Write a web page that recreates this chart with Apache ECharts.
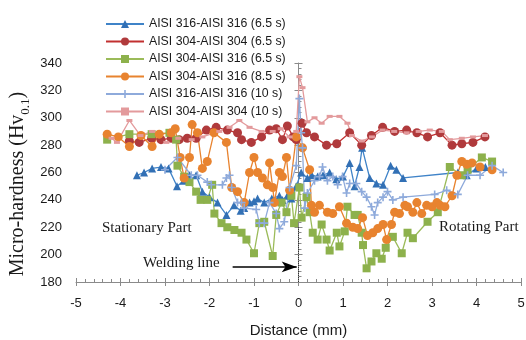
<!DOCTYPE html>
<html>
<head>
<meta charset="utf-8">
<script src="https://cdn.jsdelivr.net/npm/echarts@6/dist/echarts.min.js"></script>
<style>html,body{margin:0;padding:0;background:#fff}#c{width:526px;height:340px}</style>
</head>
<body>
<div id="c"></div>
<script>
// Tick settings
const xTicks = [-5, 5, 1];
const yTicks = [180, 340, 20];
const seriesNames = [
  'AISI 316-AISI 316 (6.5 s)',
  'AISI 304-AISI 304 (6.5 s)',
  'AISI 304-AISI 316 (6.5 s)',
  'AISI 304-AISI 316 (8.5 s)',
  'AISI 316-AISI 316 (10 s)',
  'AISI 304-AISI 304 (10 s)'
];
// [distance (mm), micro-hardness]
const s316_65 = [[-3.63,258],[-3.47,260],[-3.29,263],[-3.09,264],[-2.92,263],[-2.73,250],[-2.58,254],[-2.45,258],[-2.3,258],[-2.16,246],[-2.0,242],[-1.82,238],[-1.62,229],[-1.45,236],[-1.3,232],[-1.22,234],[-1.1,238],[-1.0,239],[-0.92,241],[-0.77,238],[-0.6,241],[-0.43,243],[-0.36,240],[-0.25,243],[-0.16,241],[-0.05,250],[0.06,260],[0.2,256],[0.3,258],[0.43,257],[0.55,258],[0.7,260],[0.85,255],[1.0,257],[1.15,267],[1.26,250],[1.37,264],[1.43,278],[1.6,256],[1.75,252],[1.9,251],[2.07,265],[2.2,262],[2.35,256],[3.58,260],[3.78,258],[4.0,263],[4.2,264]];
const s304_65 = [[-3.8,283],[-3.58,282],[-3.3,285],[-3.09,284],[-2.86,285],[-2.68,284],[-2.5,285],[-2.3,285],[-2.07,291],[-1.85,293],[-1.6,291],[-1.37,289],[-1.28,284],[-1.06,282],[-0.83,286],[-0.65,291],[-0.5,292],[-0.36,284],[-0.25,294],[-0.12,286],[-0.05,284],[0.08,296],[0.18,289],[0.36,286],[0.63,280],[0.86,281],[1.15,289],[1.42,280],[1.64,287],[1.89,293],[2.16,290],[2.43,291],[2.66,289],[2.9,286],[3.18,289],[3.45,280],[3.67,281],[3.92,282],[4.19,286]];
const s304_316_65 = [[-4.3,284],[-3.8,288],[-3.3,288],[-2.9,289],[-2.75,284],[-2.72,265],[-2.57,257],[-2.45,253],[-2.3,246],[-2.2,240],[-2.05,240],[-1.94,251],[-1.89,230],[-1.73,223],[-1.6,220],[-1.44,218],[-1.28,216],[-1.17,211],[-1.0,201],[-0.88,223],[-0.77,224],[-0.58,199],[-0.5,229],[-0.38,238],[-0.27,231],[-0.16,243],[-0.1,223],[0.02,249],[0.07,227],[0.18,242],[0.25,231],[0.32,216],[0.43,211],[0.52,222],[0.63,211],[0.7,203],[0.86,216],[0.92,206],[1.04,217],[1.1,235],[1.26,229],[1.33,229],[1.42,216],[1.45,207],[1.53,190],[1.64,195],[1.75,201],[1.87,197],[1.96,205],[2.12,213],[2.32,201],[2.45,216],[2.57,212],[2.9,224],[3.13,231],[3.4,264],[3.67,258],[3.8,262],[4.12,271],[4.35,268]];
const s304_316_85 = [[-4.3,288],[-4.05,286],[-3.8,279],[-3.54,287],[-3.29,279],[-3.13,288],[-2.86,289],[-2.77,292],[-2.66,271],[-2.57,256],[-2.45,271],[-2.39,295],[-2.27,289],[-2.16,263],[-2.05,268],[-1.9,289],[-1.62,282],[-1.5,249],[-1.37,246],[-1.22,238],[-1.1,260],[-1.0,271],[-0.92,260],[-0.81,256],[-0.7,251],[-0.65,267],[-0.58,249],[-0.54,238],[-0.43,260],[-0.36,257],[-0.27,271],[-0.2,247],[-0.05,286],[0.09,278],[0.25,262],[0.29,236],[0.36,231],[0.47,236],[0.65,231],[0.77,230],[0.92,235],[1.08,223],[1.22,220],[1.33,219],[1.44,227],[1.55,214],[1.67,216],[1.78,219],[1.9,222],[1.98,211],[2.09,222],[2.16,231],[2.27,230],[2.39,236],[2.45,235],[2.57,231],[2.66,238],[2.77,230],[2.88,236],[3.0,235],[3.11,238],[3.18,236],[3.29,235],[3.45,243],[3.56,258],[3.67,268],[3.78,266],[3.9,267],[4.08,264],[4.35,262]];
const s316_10 = [[-3.0,262],[-2.72,271],[-2.41,258],[-2.27,258],[-2.05,253],[-1.96,251],[-1.71,251],[-1.62,256],[-1.55,258],[-1.5,249],[-1.37,238],[-1.28,238],[-1.22,234],[-0.95,233],[-0.88,223],[-0.77,223],[-0.65,238],[-0.5,230],[-0.43,219],[-0.32,224],[-0.2,249],[-0.05,265],[0.02,314],[0.06,289],[0.09,278],[0.14,234],[0.2,245],[0.36,254],[0.47,257],[0.54,264],[0.65,254],[0.77,257],[0.88,251],[0.99,257],[1.08,245],[1.15,252],[1.3,252],[1.42,246],[1.53,242],[1.64,235],[1.71,229],[1.78,238],[1.9,242],[2.0,246],[2.12,240],[2.35,242],[3.06,244],[3.33,247],[3.58,244],[3.8,258],[4.08,258],[4.35,265],[4.6,260]];
const s304_10 = [[-4.2,285],[-4.08,282],[-3.8,298],[-3.55,287],[-3.29,290],[-2.97,282],[-2.7,285],[-2.4,284],[-2.16,286],[-1.78,290],[-1.55,293],[-1.33,298],[-1.1,293],[-0.83,290],[-0.58,290],[-0.4,292],[-0.2,286],[-0.05,290],[0.02,330],[0.09,322],[0.2,297],[0.36,300],[0.52,296],[0.7,301],[0.92,301],[1.1,296],[1.2,287],[1.42,283],[1.65,286],[1.89,291],[2.15,290],[2.43,289],[2.7,290],[2.95,291],[3.22,290],[3.4,284],[3.67,285],[3.92,286],[4.19,287]];
// Annotation data
const weldX = 0;
const weldLineRange = [180, 220];
const arrowFrom = [-1.48, 191];
const arrowTo = [-0.04, 191];

const axisColor = '#8a8a8a';
const plusPath = 'path://M4,0h2v4h4v2h-4v4h-2v-4h-4v-2h4z';

function mkSeries(name, data, color, lineColor, symbol, size, extra) {
  return Object.assign({
    name: name, type: 'line', data: data, symbol: symbol, symbolSize: size,
    showSymbol: true,
    itemStyle: { color: color },
    lineStyle: { color: lineColor, width: 1.3 },
    emphasis: { disabled: true },
    z: 2
  }, extra || {});
}

const chart = echarts.init(document.getElementById('c'), null, { renderer: 'canvas' });
const xBase = { type: 'value', min: xTicks[0], max: xTicks[1], interval: xTicks[2], gridIndex: 0, position: 'bottom' };
const yBase = { type: 'value', min: yTicks[0], max: yTicks[1], interval: yTicks[2], gridIndex: 0, position: 'left' };
chart.setOption({
  animation: false,
  backgroundColor: '#fff',
  grid: { left: 76, right: 5, top: 63, bottom: 58, containLabel: false, outerBoundsMode: 'none' },
  legend: {
    orient: 'vertical', left: 100, top: 12, itemWidth: 38, itemHeight: 10, itemGap: 3.5,
    textStyle: { fontFamily: 'Liberation Sans', fontSize: 12.3, color: '#1a1a1a', lineHeight: 14 },
    data: seriesNames
  },
  xAxis: [
    Object.assign({}, xBase, {
      name: 'Distance (mm)', nameLocation: 'middle', nameGap: 41,
      nameTextStyle: { fontFamily: 'Liberation Sans', fontSize: 15, color: '#1a1a1a' },
      axisLine: { show: true, lineStyle: { color: axisColor, width: 1 } },
      axisTick: { show: true, inside: true, length: 4, lineStyle: { color: axisColor } },
      minorTick: { show: true, splitNumber: 5, length: 3, lineStyle: { color: axisColor } },
      axisLabel: { fontFamily: 'Liberation Sans', fontSize: 13, color: '#1a1a1a', margin: 15 },
      splitLine: { show: false }
    }),
    Object.assign({}, xBase, {
      axisLine: { show: false },
      axisTick: { show: true, inside: false, length: 4, lineStyle: { color: axisColor } },
      axisLabel: { show: false }, splitLine: { show: false }
    })
  ],
  yAxis: [
    Object.assign({}, yBase, {
      axisLine: { show: true, lineStyle: { color: axisColor, width: 1 } },
      axisTick: { show: true, inside: true, length: 4, lineStyle: { color: axisColor } },
      minorTick: { show: true, splitNumber: 5, length: 3, lineStyle: { color: axisColor } },
      axisLabel: { fontFamily: 'Liberation Sans', fontSize: 13, color: '#1a1a1a', margin: 14 },
      splitLine: { show: false }
    }),
    Object.assign({}, yBase, {
      axisLine: { show: false },
      axisTick: { show: true, inside: false, length: 4, lineStyle: { color: axisColor } },
      axisLabel: { show: false }, splitLine: { show: false }
    })
  ],
  series: [
    mkSeries(seriesNames[0], s316_65, '#3270b5', '#3f83c8', 'triangle', 8, {
      markLine: {
        silent: true, symbol: ['none', 'none'], label: { show: false },
        lineStyle: { color: '#333', type: 'dotted', width: 1 },
        data: [[{ coord: [weldX, weldLineRange[0]] }, { coord: [weldX, weldLineRange[1]] }]]
      }
    }),
    mkSeries(seriesNames[1], s304_65, '#b03a3c', '#c23030', 'circle', 9),
    mkSeries(seriesNames[2], s304_316_65, '#8db14c', '#9bbb59', 'rect', 8),
    mkSeries(seriesNames[3], s304_316_85, '#e8832f', '#e8832f', 'circle', 9),
    mkSeries(seriesNames[4], s316_10, '#8eaadb', '#8eaadb', plusPath, 8),
    mkSeries(seriesNames[5], s304_10, '#e39a9c', '#e39a9c', 'rect', [6, 3], {
      markLine: {
        silent: true, symbol: ['none', 'arrow'], symbolSize: [8, 15], label: { show: false },
        lineStyle: { color: '#000', type: 'solid', width: 1.6 },
        data: [[{ coord: arrowFrom }, { coord: arrowTo }]]
      }
    })
  ],
  graphic: [
    { type: 'text', x: 18, y: 184, rotation: Math.PI / 2,
      style: { text: '{a|Micro-hardness (Hv}{b|0.1}{a|)}', align: 'center', verticalAlign: 'middle',
        rich: {
          a: { fontFamily: 'Liberation Serif', fontSize: 20, fill: '#1a1a1a', verticalAlign: 'bottom' },
          b: { fontFamily: 'Liberation Serif', fontSize: 13, fill: '#1a1a1a', verticalAlign: 'bottom', padding: [0, 0, -4, 0] }
        } } },
    { type: 'text', left: 102, top: 221, style: { text: 'Stationary Part', fontFamily: 'Liberation Serif', fontSize: 15, fill: '#1a1a1a' } },
    { type: 'text', left: 439, top: 220, style: { text: 'Rotating Part', fontFamily: 'Liberation Serif', fontSize: 15, fill: '#1a1a1a' } },
    { type: 'text', left: 143, top: 256, style: { text: 'Welding line', fontFamily: 'Liberation Serif', fontSize: 15, fill: '#1a1a1a' } }
  ]
});
</script>
</body>
</html>
